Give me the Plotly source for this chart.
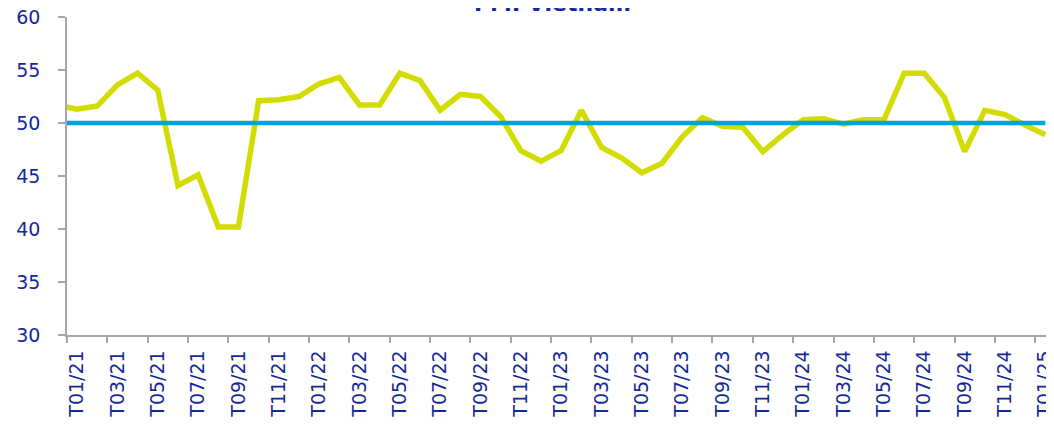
import plotly.graph_objects as go

# Months (index -1 = T12/20, clipped at the left edge of the plot)
months = ["T12/20",
          "T01/21", "T02/21", "T03/21", "T04/21", "T05/21", "T06/21", "T07/21", "T08/21", "T09/21", "T10/21", "T11/21", "T12/21",
          "T01/22", "T02/22", "T03/22", "T04/22", "T05/22", "T06/22", "T07/22", "T08/22", "T09/22", "T10/22", "T11/22", "T12/22",
          "T01/23", "T02/23", "T03/23", "T04/23", "T05/23", "T06/23", "T07/23", "T08/23", "T09/23", "T10/23", "T11/23", "T12/23",
          "T01/24", "T02/24", "T03/24", "T04/24", "T05/24", "T06/24", "T07/24", "T08/24", "T09/24", "T10/24", "T11/24", "T12/24",
          "T01/25"]

pmi = [51.7,
       51.3, 51.6, 53.6, 54.7, 53.1, 44.1, 45.1, 40.2, 40.2, 52.1, 52.2, 52.5,
       53.7, 54.3, 51.7, 51.7, 54.7, 54.0, 51.2, 52.7, 52.5, 50.6, 47.4, 46.4,
       47.4, 51.2, 47.7, 46.7, 45.3, 46.2, 48.7, 50.5, 49.7, 49.6, 47.3, 48.9,
       50.3, 50.4, 49.9, 50.3, 50.3, 54.7, 54.7, 52.4, 47.3, 51.2, 50.8, 49.8,
       48.9]

threshold = [50.0] * len(months)

tick_labels = ["T01/21", "T03/21", "T05/21", "T07/21", "T09/21", "T11/21",
               "T01/22", "T03/22", "T05/22", "T07/22", "T09/22", "T11/22",
               "T01/23", "T03/23", "T05/23", "T07/23", "T09/23", "T11/23",
               "T01/24", "T03/24", "T05/24", "T07/24", "T09/24", "T11/24",
               "T01/25"]

x = list(range(-1, len(months) - 1))
tick_pos = [x[months.index(t)] for t in tick_labels]

TXT = "#13299a"
AX = "#a6a6a6"
FONT = "DejaVu Sans, sans-serif"

fig = go.Figure()
fig.add_trace(go.Scatter(x=x, y=pmi, mode="lines",
                         line=dict(color="#d3dc00", width=5.5),
                         hoverinfo="x+y", showlegend=False))
fig.add_trace(go.Scatter(x=x, y=threshold, mode="lines",
                         line=dict(color="#00a3dc", width=4.5),
                         showlegend=False))

fig.update_layout(
    width=1054, height=426,
    margin=dict(l=59, r=8, t=9, b=99, autoexpand=False),
    paper_bgcolor="white", plot_bgcolor="white",
    font=dict(family=FONT, color=TXT),
    xaxis=dict(range=[-0.5, 48.43], showgrid=False, zeroline=False,
               automargin=False,
               showline=True, linecolor=AX, linewidth=1.5,
               tickmode="array", tickvals=tick_pos, ticktext=tick_labels,
               ticks="", tickangle=-90, tickfont=dict(size=19, color=TXT),
               ticklabelstandoff=6, ticklabeloverflow="allow",
               minor=dict(tick0=-0.5, dtick=2, ticks="outside", ticklen=6,
                          tickcolor=AX, tickwidth=1.5, showgrid=False)),
    yaxis=dict(range=[30, 60], dtick=5, showgrid=False, zeroline=False,
               automargin=False,
               showline=True, linecolor=AX, linewidth=1.5,
               ticks="outside", ticklen=7, tickcolor=AX, tickwidth=1.5,
               tickfont=dict(size=19, color=TXT), ticklabelstandoff=14,
               ticklabeloverflow="allow"),
    annotations=[dict(text="<b>PMI Vietnam</b>", xref="paper", yref="paper",
                      x=0.492, y=0.997, xanchor="center", yanchor="bottom",
                      showarrow=False, font=dict(size=22, color=TXT, family=FONT))],
)

fig.write_html("out.html")
